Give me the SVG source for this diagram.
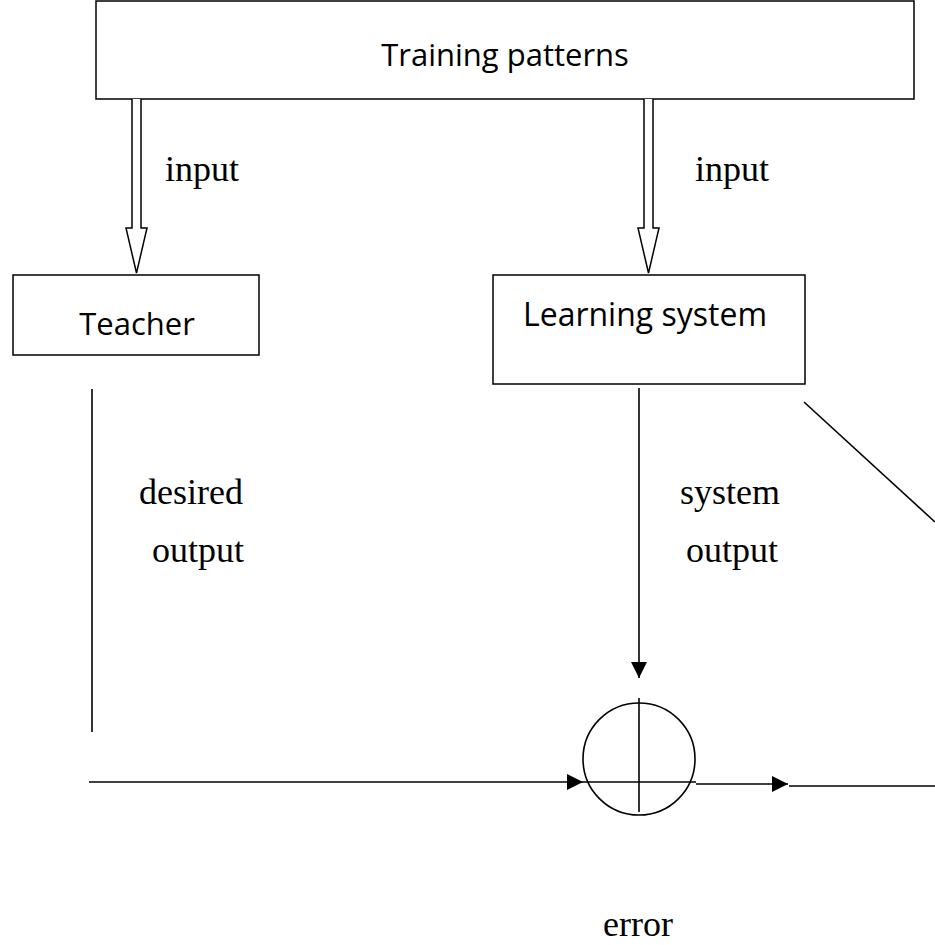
<svg xmlns="http://www.w3.org/2000/svg" width="935" height="945" viewBox="0 0 935 945">
<defs>
<style>
.box{fill:#fff;stroke:#000;stroke-width:1.5}
.ln{fill:none;stroke:#000;stroke-width:1.6}
.hollow{fill:#fff;stroke:#000;stroke-width:1.5}
.sans{font-family:"Open Sans","Liberation Sans",sans-serif;font-size:31px;fill:#000}
.serif{font-family:"Liberation Serif","Times New Roman",serif;font-size:36px;fill:#000}
</style>
<marker id="ah" viewBox="0 0 10 10" refX="10" refY="5" markerWidth="16" markerHeight="16" markerUnits="userSpaceOnUse" orient="auto">
<path d="M0,0 L10,5 L0,10 Z" fill="#000"/>
</marker>
</defs>
<rect width="935" height="945" fill="#fff"/>
<g id="training">
<rect class="box" x="96" y="1" width="818" height="98"/>
<text class="sans" x="505" y="66" text-anchor="middle">Training patterns</text>
</g>
<g id="teacher">
<rect class="box" x="13" y="275" width="246" height="80"/>
<text class="sans" x="137" y="335" text-anchor="middle">Teacher</text>
</g>
<g id="learning">
<rect class="box" x="493" y="275" width="312" height="109"/>
<text class="sans" x="645" y="326" text-anchor="middle" style="font-size:32px">Learning system</text>
</g>
<g id="sum">
<circle class="ln" cx="639" cy="759" r="56"/>
<line class="ln" x1="639" y1="698" x2="639" y2="812"/>
<line class="ln" x1="583" y1="782" x2="696" y2="782"/>
</g>
<g id="connectors">
<path class="hollow" d="M132,99 V228 H126 L136.5,273 L147,228 H141 V99"/>
<path class="hollow" d="M644,99 V228 H638 L648.5,273 L659,228 H653 V99"/>
<line class="ln" x1="92" y1="389" x2="92" y2="732"/>
<line class="ln" x1="89" y1="782" x2="583" y2="782" marker-end="url(#ah)"/>
<line class="ln" x1="639" y1="388" x2="639" y2="678" marker-end="url(#ah)"/>
<line class="ln" x1="696" y1="784" x2="788" y2="784" marker-end="url(#ah)"/>
<line class="ln" x1="789" y1="786" x2="935" y2="786"/>
<line class="ln" x1="804" y1="402" x2="935" y2="522"/>
</g>
<g id="labels">
<text class="serif" x="165" y="181">input</text>
<text class="serif" x="695" y="181">input</text>
<text class="serif" x="139" y="504">desired</text>
<text class="serif" x="152" y="562">output</text>
<text class="serif" x="680" y="504">system</text>
<text class="serif" x="686" y="562">output</text>
<text class="serif" x="638" y="936" text-anchor="middle">error</text>
</g>
</svg>
